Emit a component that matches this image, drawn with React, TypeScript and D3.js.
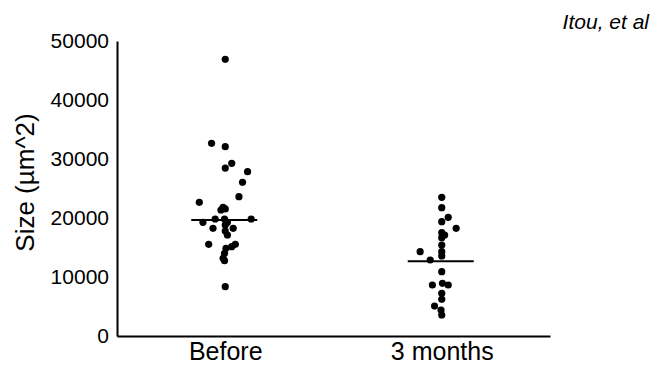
import React, { useEffect, useRef } from 'react';
import * as d3 from 'd3';

const groups = ['Before', '3 months'];
const yTicks = [0, 10000, 20000, 30000, 40000, 50000];

const beforeValues = [
  46900, 32660, 32090, 29270, 28470, 27850, 26050, 23610, 22660, 21810,
  21530, 21360, 19830, 19830, 19830, 19270, 19270, 18810, 18250, 18250,
  17800, 17120, 15540, 15540, 15140, 14860, 14020, 13170, 12760, 8360,
];
// horizontal jitter, in dot diameters
const beforeJitter = [
  0, -1.9, 0, 0.9, 0, 3.1, 2.4, 1.9, -3.6, -0.3,
  0, -0.6, -1.4, -0.1, 3.6, -3.1, 0.3, 0, -1.7, 1.1,
  0, 0.3, -2.3, 1.4, 0.9, 0.1, -0.1, -0.3, -0.1, 0,
];

const monthsValues = [
  23510, 21750, 20120, 19370, 18250, 17510, 17120, 16660, 15420, 14290,
  14290, 13560, 12880, 10900, 8930, 8640, 8640, 7240, 6220, 5080,
  4410, 3560,
];
const monthsJitter = [
  0, 0, 0.9, 0, 2, 0, 0.4, 0, 0, -3,
  0, 0, -1.6, 0, 0.1, -1.3, 0.9, 0, 0, -1,
  -0.1, 0,
];

const medians = [19660, 12660];

const FONT = 'Arial, "Liberation Sans", sans-serif';

export default function App() {
  const svgRef = useRef<SVGSVGElement>(null);

  useEffect(() => {
    if (!svgRef.current) return;
    const svg = d3.select(svgRef.current);
    svg.selectAll('*').remove();

    const width = 654;
    const height = 366;
    const margin = { top: 41, right: 104, bottom: 30, left: 117 };
    const innerWidth = width - margin.left - margin.right;
    const innerHeight = height - margin.top - margin.bottom;

    const xScale = d3.scalePoint<string>()
      .domain(groups)
      .range([0, innerWidth])
      .padding(0.5);

    const yScale = d3.scaleLinear()
      .domain([0, 50000])
      .range([innerHeight, 0]);

    const r = 3.6;
    const jitterScale = d3.scaleLinear().domain([0, 1]).range([0, r * 2]);

    const g = svg.append('g')
      .attr('transform', `translate(${margin.left},${margin.top})`);

    g.append('g')
      .call(d3.axisLeft(yScale).tickValues(yTicks).tickSize(0).tickPadding(8).tickFormat(d3.format('d')))
      .call((a: any) => a.selectAll('text').attr('fill', '#000').attr('font-size', '21px').attr('font-family', FONT))
      .call((a: any) => a.select('.domain').attr('stroke', '#000').attr('stroke-width', 2));

    g.append('g')
      .attr('transform', `translate(0,${innerHeight})`)
      .call(d3.axisBottom(xScale).tickSize(0).tickPadding(6))
      .call((a: any) => a.selectAll('text').attr('fill', '#000').attr('font-size', '25px').attr('font-family', FONT))
      .call((a: any) => a.select('.domain').attr('stroke', '#000').attr('stroke-width', 2));

    g.append('text')
      .attr('transform', 'rotate(-90)')
      .attr('x', -yScale(25000) + 6)
      .attr('y', -83)
      .attr('text-anchor', 'middle')
      .attr('font-family', FONT)
      .attr('font-size', '26px')
      .attr('fill', '#000')
      .text('Size (µm^2)');

    const series = [
      { name: groups[0], values: beforeValues, jitter: beforeJitter },
      { name: groups[1], values: monthsValues, jitter: monthsJitter },
    ];

    series.forEach((s, si) => {
      const cx = xScale(s.name) as number;
      g.append('line')
        .attr('x1', cx - 34)
        .attr('x2', cx + 32)
        .attr('y1', yScale(medians[si]))
        .attr('y2', yScale(medians[si]))
        .attr('stroke', '#000')
        .attr('stroke-width', 2);

      g.append('g')
        .selectAll('circle')
        .data(s.values)
        .join('circle')
        .attr('cx', (_d: number, i: number) => cx + jitterScale(s.jitter[i]))
        .attr('cy', (d: number) => yScale(d))
        .attr('r', r)
        .attr('fill', '#000');
    });

    svg.append('text')
      .attr('x', 649)
      .attr('y', 29)
      .attr('text-anchor', 'end')
      .attr('font-family', FONT)
      .attr('font-style', 'italic')
      .attr('font-size', '21px')
      .attr('fill', '#000')
      .text('Itou, et al');
  }, []);

  return (
    <svg
      ref={svgRef}
      width={654}
      height={366}
      style={{ position: 'absolute', left: 0, top: 0, display: 'block', background: '#fff' }}
    />
  );
}
